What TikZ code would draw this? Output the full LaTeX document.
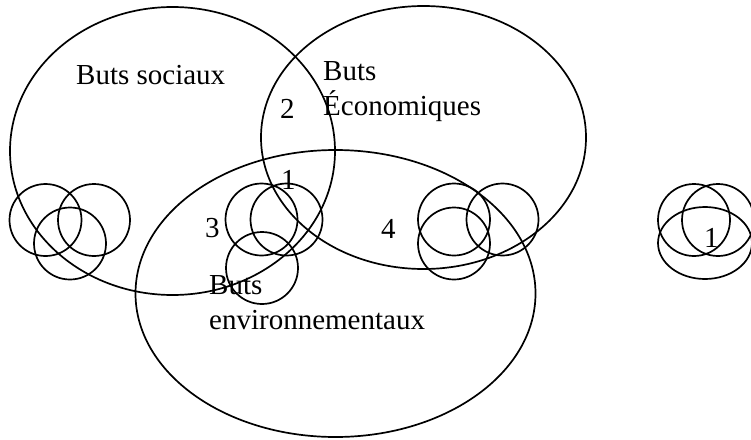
\documentclass[tikz,border=0pt]{standalone}
\usepackage{fontspec}
\setmainfont{Liberation Serif}
\usetikzlibrary{shapes.geometric}
\begin{document}
\begin{tikzpicture}[x=1pt,y=-1pt,
  big/.style={draw, ellipse, line width=1.7pt, inner sep=0pt},
  ring/.style={draw, ellipse, line width=1.7pt, inner sep=0pt, minimum width=72pt, minimum height=72pt},
  lbl/.style={anchor=base west, inner sep=0pt, font=\fontsize{29}{35}\selectfont}]
\useasboundingbox (0,0) rectangle (751,439);
% large ellipses
\node[big, minimum width=325pt, minimum height=288pt] (soc) at (172.5,151) {};
\node[big, minimum width=325pt, minimum height=263pt] (eco) at (423.5,137.5) {};
\node[big, minimum width=400pt, minimum height=287pt] (env) at (335.5,293.5) {};
% cluster left
\node[ring] (a1) at (45.5,220) {};
\node[ring] (a2) at (94,220) {};
\node[ring] (a3) at (70,243.5) {};
% cluster middle
\node[ring] (b1) at (261.5,219.5) {};
\node[ring] (b2) at (286.5,219.5) {};
\node[ring] (b3) at (262,268) {};
% cluster right of middle
\node[ring] (c1) at (454,219.5) {};
\node[ring] (c2) at (502.5,219.5) {};
\node[ring] (c3) at (454,243.5) {};
% cluster far right
\node[ring] (d1) at (694,220) {};
\node[ring] (d2) at (718,220) {};
\node[ring, minimum width=94pt] (d3) at (705,243) {};
% labels
\node[lbl] (tsoc) at (76,84) {Buts sociaux};
\node[lbl, align=left] (teco) at (323,115) {Buts\\Économiques};
\node[lbl] (t2) at (280,118) {2};
\node[lbl] (t1) at (281,189) {1};
\node[lbl] (t3) at (205,237) {3};
\node[lbl] (t4) at (381,238) {4};
\node[lbl] (t1b) at (704,247) {1};
\node[lbl, align=left] (tenv) at (209,329) {Buts\\environnementaux};
\end{tikzpicture}
\end{document}
